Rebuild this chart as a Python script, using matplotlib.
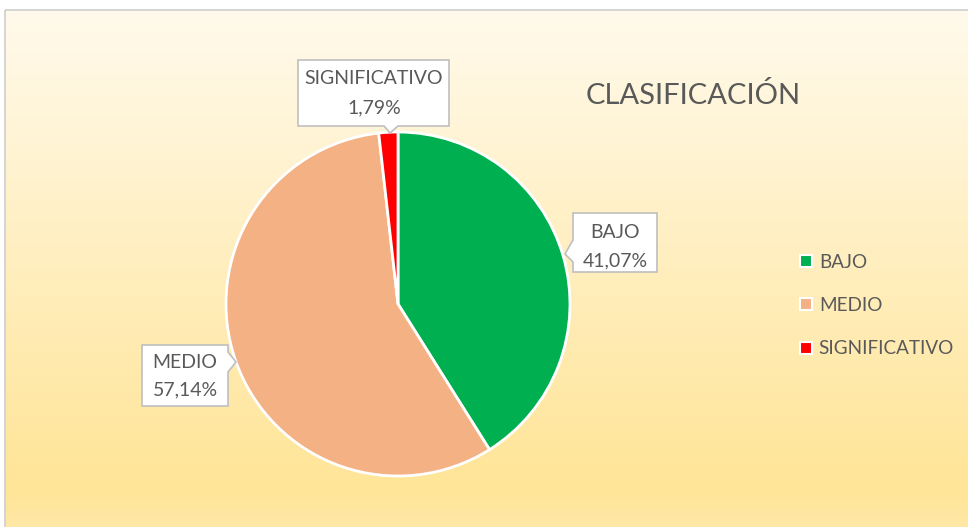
import numpy as np
import matplotlib.pyplot as plt
from matplotlib.colors import LinearSegmentedColormap
from matplotlib.patches import Polygon, Rectangle
from matplotlib.lines import Line2D

categories = ['BAJO', 'MEDIO', 'SIGNIFICATIVO']
values = [41.07, 57.14, 1.79]
labels = ['41,07%', '57,14%', '1,79%']
colors = ['#00B050', '#F4B183', '#FF0000']
title = 'CLASIFICACIÓN'

W, H = 968, 527
plt.rcParams['font.family'] = ['Lato', 'DejaVu Sans']
txt_color = '#595959'

fig = plt.figure(figsize=(W / 100, H / 100), dpi=100)

# gradient background (pixel coords)
back = fig.add_axes([0, 0, 1, 1], zorder=0)
back.set_xlim(0, W)
back.set_ylim(H, 0)
back.axis('off')
cmap = LinearSegmentedColormap.from_list('bg', [(0, '#FFFAEC'), (0.45, '#FFEFC2'),
                                               (0.93, '#FFE597'), (1, '#FFE8A6')])
grad = np.linspace(0, 1, 256).reshape(-1, 1)
back.imshow(grad, cmap=cmap, extent=[5, W, H, 10], aspect='auto')
back.add_patch(Rectangle((5, 10), W, H, fill=False, edgecolor='#D0CECE', lw=1.2))

# pie
cx, cy, r = 398, 304, 172
ax = fig.add_axes([(cx - r) / W, (H - cy - r) / H, 2 * r / W, 2 * r / H], zorder=1)
wedges, _ = ax.pie(values, colors=colors, startangle=90, counterclock=False,
                   wedgeprops=dict(edgecolor='white', linewidth=2))
ax.set_xlim(-1, 1)
ax.set_ylim(-1, 1)
ax.set_aspect('equal')

# overlay axes for callouts / title
top = fig.add_axes([0, 0, 1, 1], zorder=2)
top.set_xlim(0, W)
top.set_ylim(H, 0)
top.axis('off')
top.patch.set_visible(False)


def callout(x0, y0, x1, y1, side, a, tip, b, lines, xt, y_lines):
    if side == 'bottom':
        verts = [(x0, y0), (x1, y0), (x1, y1), (b, y1), tip, (a, y1), (x0, y1)]
    elif side == 'left':
        verts = [(x0, y0), (x1, y0), (x1, y1), (x0, y1), (x0, b), tip, (x0, a)]
    else:
        verts = [(x0, y0), (x1, y0), (x1, a), tip, (x1, b), (x1, y1), (x0, y1)]
    top.add_patch(Polygon(verts, closed=True, facecolor='white', edgecolor='#BFBFBF', lw=1.2))
    for t, yy in zip(lines, y_lines):
        top.text(xt, yy, t, ha='center', va='center', fontsize=14, color=txt_color)


callout(298, 60, 449, 126, 'bottom', 384, (390, 133), 398,
        [categories[2], labels[2]], 374, [78, 108])
callout(573, 213, 657, 272, 'left', 240, (565, 254), 262,
        [categories[0], labels[0]], 615, [233, 261])
callout(142, 345, 228, 406, 'right', 352, (236, 362), 372,
        [categories[1], labels[1]], 185, [362, 390])

top.text(693, 95, title, ha='center', va='center', fontsize=21, color=txt_color)

handles = [Line2D([], [], marker='s', linestyle='none', markersize=9,
                  markerfacecolor=c, markeredgecolor='white', markeredgewidth=1.5)
           for c in colors]
leg = fig.legend(handles, categories, loc='upper left',
                 bbox_to_anchor=(781 / W, 1 - 237 / H), frameon=False,
                 fontsize=13.6, labelcolor=txt_color, handlelength=0.8,
                 handletextpad=0.3, labelspacing=1.38)

fig.savefig('out.png', dpi=100)
